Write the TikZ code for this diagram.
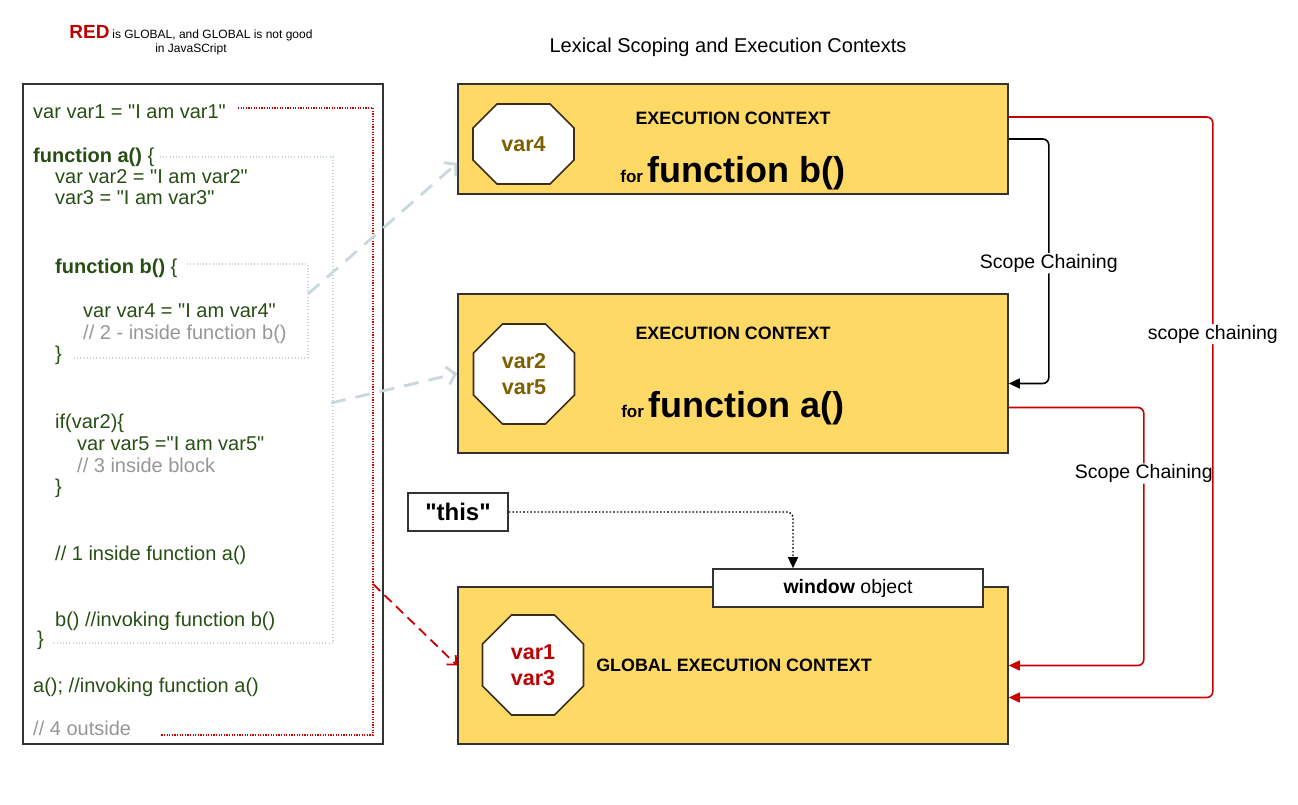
\documentclass[tikz,border=0pt]{standalone}
\usepackage{fontspec}
\setmainfont{Liberation Sans}[Ligatures=TeXOff]
\usetikzlibrary{arrows.meta}

\definecolor{codegreen}{RGB}{39,78,19}
\definecolor{codegray}{RGB}{150,150,150}
\definecolor{ctxyellow}{HTML}{FFD966}
\definecolor{ctxborder}{HTML}{333333}
\definecolor{octborder}{HTML}{3B2F17}
\definecolor{vargold}{HTML}{7F6000}
\definecolor{globred}{HTML}{C00000}
\definecolor{linkred}{HTML}{CC0000}
\definecolor{scopeblue}{RGB}{200,216,220}
\definecolor{scopedot}{RGB}{196,210,218}

\newcommand{\varoct}[2]{%
  \draw[octline] ([xshift=#2]#1.north west) -- ([xshift=-#2]#1.north east)
    -- ([yshift=-#2]#1.north east) -- ([yshift=#2]#1.south east)
    -- ([xshift=-#2]#1.south east) -- ([xshift=#2]#1.south west)
    -- ([yshift=#2]#1.south west) -- ([yshift=-#2]#1.north west) -- cycle;}

\begin{document}
\begin{tikzpicture}[x=1pt, y=-1pt,
  code/.style={anchor=base west, inner sep=0pt, text=codegreen, font=\fontsize{20}{24}\selectfont},
  comment/.style={code, text=codegray},
  ctx/.style={draw=ctxborder, line width=1.6pt, fill=ctxyellow, minimum width=550pt, inner sep=0pt},
  ctxtitle/.style={inner sep=0pt, font=\fontsize{17.9}{21}\selectfont\bfseries},
  octa/.style={inner sep=0pt, outer sep=0pt, minimum width=101pt},
  octline/.style={draw=octborder, line width=1.6pt, fill=white, line join=miter},
  vartext/.style={inner sep=0pt, align=center, font=\fontsize{21.5}{26}\selectfont\bfseries},
  plainbox/.style={draw=ctxborder, line width=1.6pt, fill=white, inner sep=0pt},
  label/.style={fill=white, text=black, inner sep=1pt, font=\fontsize{19.5}{23}\selectfont},
  globaldot/.style={linkred, line width=1.8pt, dash pattern=on 1.2pt off 1.4pt},
  scopedots/.style={scopedot, line width=1.2pt, dash pattern=on 1pt off 2.2pt},
  blink/.style={scopeblue, line width=2.8pt, dash pattern=on 15pt off 10pt, -{Straight Barb[length=8pt,width=18pt]}},
  rlink/.style={linkred, line width=1.8pt, dash pattern=on 10pt off 6pt, -{Straight Barb[length=7pt,width=13pt]}},
  chain/.style={line width=1.6pt, rounded corners=6pt, -{Triangle[length=11pt,width=10pt]}}
]
\useasboundingbox (0,0) rectangle (1298,805);

\node[anchor=base, inner sep=0pt] (note1) at (191,39) {{\fontsize{19}{22}\selectfont\bfseries\color{globred}RED} {\fontsize{12}{14}\selectfont is GLOBAL, and GLOBAL is not good}};
\node[anchor=base, inner sep=0pt, font=\fontsize{12}{14}\selectfont] (note2) at (191,53) {in JavaSCript};
\node[anchor=base, inner sep=0pt, font=\fontsize{20}{24}\selectfont] (title) at (728,53) {Lexical Scoping and Execution Contexts};

\node[draw=ctxborder, line width=1.8pt, minimum width=360pt, minimum height=660pt, inner sep=0pt] (codebox) at (203,414) {};

\coordinate (g1) at (238,108);
\coordinate (g2) at (160,735);
\coordinate (a1) at (160,157);
\coordinate (a2) at (53,643);
\coordinate (b1) at (187,264);
\coordinate (b2) at (73,358);
\draw[globaldot] (g1) -- (373,108) |- (g2);
\draw[scopedots] (a1) -- (333,157) |- (a2);
\draw[scopedots] (b1) -- (308,264) |- (b2);

\node[code] (c1) at (33,119) {var var1 = "I am var1"};
\node[code] (c2) at (33,163) {\textbf{function a()} \{};
\node[code] (c3) at (55,184) {var var2 = "I am var2"};
\node[code] (c4) at (55,205) {var3 = "I am var3"};
\node[code] (c5) at (55,273) {\textbf{function b()} \{};
\node[code] (c6) at (83,317) {var var4 = "I am var4"};
\node[comment] (c7) at (83,339) {// 2 - inside function b()};
\node[code] (c8) at (55,360) {\}};
\node[code] (c9) at (55,428) {if(var2)\{};
\node[code] (c10) at (77,450) {var var5 ="I am var5"};
\node[comment] (c11) at (77,472) {// 3 inside block};
\node[code] (c12) at (55,493) {\}};
\node[code] (c13) at (55,560) {// 1 inside function a()};
\node[code] (c14) at (55,626) {b() //invoking function b()};
\node[code] (c15) at (37,645) {\}};
\node[code] (c16) at (33,692) {a(); //invoking function a()};
\node[comment] (c17) at (33,735) {// 4 outside};

\node[ctx, minimum height=110pt] (ctxb) at (733,139) {};
\node[ctx, minimum height=159pt] (ctxa) at (733,373.5) {};
\node[ctx, minimum height=157pt] (glob) at (733,665.5) {};

\node[ctxtitle] (ecb) at (733,118) {EXECUTION CONTEXT};
\node[anchor=base, inner sep=0pt, font=\bfseries] (forb) at (733,183) {{\fontsize{17}{20}\selectfont for }{\fontsize{36}{40}\selectfont function b()}};
\node[ctxtitle] (eca) at (733,333) {EXECUTION CONTEXT};
\node[anchor=base, inner sep=0pt, font=\bfseries] (fora) at (733,417) {{\fontsize{17}{20}\selectfont for }{\fontsize{36}{40}\selectfont function a()}};
\node[ctxtitle] (egl) at (734,665) {GLOBAL EXECUTION CONTEXT};

\node[octa, minimum height=80pt] (octb) at (523.5,144) {};
\node[octa, minimum height=100pt] (octa) at (524,374) {};
\node[octa, minimum height=100pt] (octg) at (533,665) {};
\varoct{octb}{24pt}
\varoct{octa}{29pt}
\varoct{octg}{29pt}
\node[vartext, text=vargold] (varb) at (octb) {var4};
\node[vartext, text=vargold] (vara) at (octa) {var2\\var5};
\node[vartext, text=globred] (varg) at (octg) {var1\\var3};

\node[plainbox, minimum width=270pt, minimum height=38pt, font=\fontsize{19.5}{23}\selectfont] (win) at (848,588) {\textbf{window} object};
\node[plainbox, minimum width=100pt, minimum height=38pt, font=\fontsize{24}{28}\selectfont\bfseries] (this) at (458,512) {"this"};

\coordinate (sb) at (308,294);
\coordinate (sa) at (331,403);
\coordinate (sg) at (373,584);
\draw[blink] (sb) -- ([yshift=-24pt]ctxb.west);
\draw[blink] (sa) -- (ctxa.west);
\draw[rlink] (sg) -- (glob.west);

\draw[chain, black, dotted, line width=1.4pt] (this.east) -| ([xshift=-55pt]win.north);
\draw[chain, black] (ctxb.east) -- ++(40pt,0) |- node[label, pos=0.254] (lb) {Scope Chaining} ([yshift=-10pt]ctxa.east);
\draw[chain, linkred] ([yshift=-34pt]ctxa.east) -- ++(135pt,0) |- node[label, pos=0.128] (la) {Scope Chaining} (glob.east);
\draw[chain, linkred] ([yshift=22pt]ctxb.east) -- ++(204pt,0) |- node[label, pos=0.187] (lg) {scope chaining} ([yshift=-32pt]glob.east);
\end{tikzpicture}
\end{document}
